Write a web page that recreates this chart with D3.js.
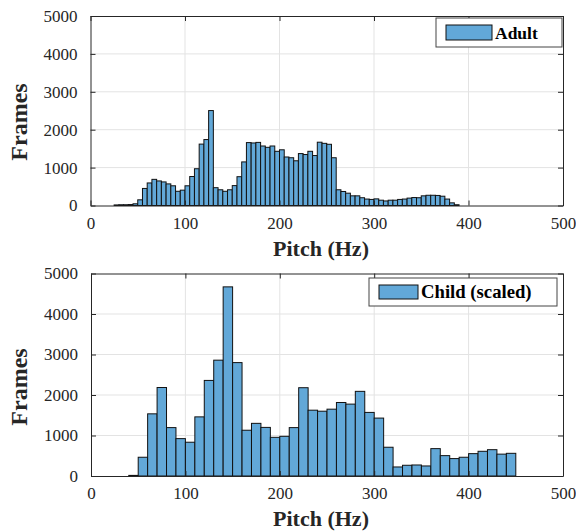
<!DOCTYPE html>
<html><head><meta charset="utf-8">
<script src="https://cdn.jsdelivr.net/npm/d3@7"></script>
<style>body{margin:0;background:#fff}svg{display:block}</style>
</head><body>
<script>
// ---- data ----
const adultBinStart = [25,30,35,40,45,50,55,60,65,70,75,80,85,90,95,100,105,110,115,120,125,130,135,140,145,150,155,160,165,170,175,180,185,190,195,200,205,210,215,220,225,230,235,240,245,250,255,260,265,270,275,280,285,290,295,300,305,310,315,320,325,330,335,340,345,350,355,360,365,370,375,380,385];
const adultCounts = [15,20,20,25,45,150,450,595,690,648,622,570,520,375,405,520,765,970,1620,1740,2505,470,415,375,415,525,760,1150,1660,1650,1665,1570,1535,1570,1430,1470,1280,1260,1180,1370,1345,1430,1318,1670,1640,1615,1260,415,370,325,255,255,205,170,160,175,140,120,140,140,160,170,195,210,205,255,270,270,265,245,170,70,20];
const adultBinWidth = 5;
const childBinStart = [40,50,60,70,80,90,100,110,120,130,140,150,160,170,180,190,200,210,220,230,240,250,260,270,280,290,300,310,320,330,340,350,360,370,380,390,400,410,420,430,440];
const childCounts = [15,463,1535,2185,1195,923,834,1460,2360,2860,4670,2800,1130,1300,1200,955,980,1195,2180,1625,1600,1650,1815,1775,2090,1570,1430,710,223,265,272,248,676,503,430,463,552,610,650,540,560];
const childBinWidth = 10;
const xTicks = [0,100,200,300,400,500];
const yTicks = [0,1000,2000,3000,4000,5000];
const xLabel = "Pitch (Hz)";
const yLabel = "Frames";
const legendAdult = "Adult";
const legendChild = "Child (scaled)";

const W = 576, H = 531;
const svg = d3.select("body").append("svg").attr("width", W).attr("height", H);
const FONT = "'Liberation Serif','Times New Roman',serif";
const AX = "#262626";
const BAR = "#62A8D8";
const fmt = d3.format("d");

function panel(o) {
  const x = d3.scaleLinear().domain([0,500]).range(o.xr);
  const y = d3.scaleLinear().domain([0,5000]).range(o.yr);
  const g = svg.append("g");
  const [x0,x1] = o.xr, [y0,y1] = o.yr;
  // grid
  g.append("g").selectAll("line").data(xTicks.slice(1,-1)).join("line")
    .attr("x1", d=>x(d)).attr("x2", d=>x(d)).attr("y1", y0).attr("y2", y1)
    .attr("stroke", "#e3e3e3").attr("stroke-width", 1);
  g.append("g").selectAll("line").data(yTicks.slice(1,-1)).join("line")
    .attr("y1", d=>y(d)).attr("y2", d=>y(d)).attr("x1", x0).attr("x2", x1)
    .attr("stroke", "#e3e3e3").attr("stroke-width", 1);
  // bars
  g.append("g").selectAll("rect").data(o.starts).join("rect")
    .attr("x", d=>x(d)).attr("width", d=>x(d+o.bw)-x(d))
    .attr("y", (d,i)=>y(o.counts[i])).attr("height", (d,i)=>y(0)-y(o.counts[i]))
    .attr("fill", BAR).attr("stroke", "#111").attr("stroke-width", 1);
  // axes (ticks inside)
  const ax = (axis, tr) => g.append("g").attr("transform", tr).call(axis)
      .call(s => { s.select(".domain").attr("stroke", AX);
                   s.selectAll(".tick line").attr("stroke", AX);
                   s.selectAll("text").attr("fill", AX).attr("font-family", FONT).attr("font-size", 17); });
  ax(d3.axisBottom(x).tickValues(xTicks).tickFormat(fmt).tickSizeInner(-5).tickSizeOuter(0).tickPadding(11), `translate(0,${y0})`);
  ax(d3.axisTop(x).tickValues(xTicks).tickSizeInner(-5).tickSizeOuter(0).tickFormat(""), `translate(0,${y1})`);
  ax(d3.axisLeft(y).tickValues(yTicks).tickFormat(fmt).tickSizeInner(-5).tickSizeOuter(0).tickPadding(13), `translate(${x0},0)`);
  ax(d3.axisRight(y).tickValues(yTicks).tickSizeInner(-5).tickSizeOuter(0).tickFormat(""), `translate(${x1},0)`);
  // labels
  svg.append("text").attr("x", o.xlx).attr("y", o.xly).attr("text-anchor", "middle")
    .attr("font-family", FONT).attr("font-weight", "bold").attr("font-size", 22).attr("fill", AX).text(xLabel);
  svg.append("text").attr("transform", `translate(${o.ylx},${o.yly}) rotate(-90)`).attr("text-anchor", "middle")
    .attr("font-family", FONT).attr("font-weight", "bold").attr("font-size", 24).attr("fill", AX).text(yLabel);
  // legend
  const L = o.leg;
  g.append("rect").attr("x", L.x).attr("y", L.y).attr("width", L.w).attr("height", L.h)
    .attr("fill", "#fff").attr("stroke", "#444").attr("stroke-width", 1);
  g.append("rect").attr("x", L.x+10).attr("y", L.y+7).attr("width", L.sw).attr("height", L.h-14)
    .attr("fill", BAR).attr("stroke", "#111").attr("stroke-width", 1);
  g.append("text").attr("x", L.x+L.sw+13).attr("y", L.y+L.h/2+6).attr("font-family", FONT)
    .attr("font-weight", "bold").attr("font-size", L.fs).attr("fill", "#000").text(L.text);
}

panel({xr:[90.5,563], yr:[205.5,16], starts:adultBinStart, counts:adultCounts, bw:adultBinWidth,
  xlx:321, xly:256, ylx:27, yly:122,
  leg:{x:436, y:18, w:126, h:29, sw:46, fs:17.5, text:legendAdult}});
panel({xr:[91,563], yr:[476,273.5], starts:childBinStart, counts:childCounts, bw:childBinWidth,
  xlx:321, xly:526, ylx:27, yly:387,
  leg:{x:369, y:278, w:188, h:28, sw:39, fs:18.7, text:legendChild}});
</script>
</body></html>
